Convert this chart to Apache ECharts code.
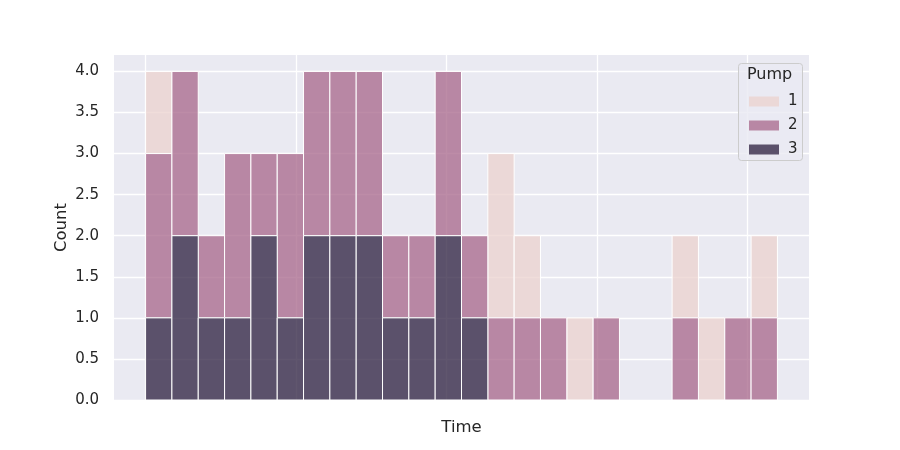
<!DOCTYPE html>
<html>
<head>
<meta charset="utf-8">
<script src="https://cdn.jsdelivr.net/npm/echarts@6/dist/echarts.min.js"></script>
<style>html,body{margin:0;padding:0;background:#fff}#c{width:900px;height:450px}</style>
</head>
<body>
<div id="c"></div>
<script>
// Bin edges along the Time axis (24 equal bins)
const binStarts = [0,7,14,21,28,35,42,49,56,63,70,77,84,91,98,105,112,119,126,133,140,147,154,161];
const binWidth = 7;
// Counts per bin for each pump (stacked: 3 bottom, 2 middle, 1 top)
const pump1 = [1,0,0,0,0,0,0,0,0,0,0,0,0,2,1,0,1,0,0,0,1,1,0,1];
const pump2 = [2,2,1,2,1,2,2,2,2,1,1,2,1,1,1,1,0,1,0,0,1,0,1,1];
const pump3 = [1,2,1,1,2,1,2,2,2,1,1,2,1,0,0,0,0,0,0,0,0,0,0,0];
const pumpNames = ['1','2','3'];
const xGridTicks = [0,40,80,120,160];
const yTicks = [0,0.5,1,1.5,2,2.5,3,3.5,4];

const colors = {
  '1': 'rgba(235,209,205,0.75)',
  '2': 'rgba(167,102,138,0.75)',
  '3': 'rgba(43,29,62,0.75)'
};

const counts = {'1': pump1, '2': pump2, '3': pump3};
const stackOrder = ['3','2','1'];
const base = binStarts.map(() => 0);
const seriesData = {};
stackOrder.forEach(name => {
  seriesData[name] = binStarts.map((s, i) => {
    const b = base[i];
    const t = b + counts[name][i];
    base[i] = t;
    return [s, s + binWidth, b, t];
  }).filter(d => d[3] > d[2]);
});

function renderItem(params, api) {
  const p0 = api.coord([api.value(0), api.value(2)]);
  const p1 = api.coord([api.value(1), api.value(3)]);
  return {
    type: 'rect',
    shape: { x: p0[0], y: p1[1], width: p1[0] - p0[0], height: p0[1] - p1[1] },
    style: { fill: api.visual('color'), stroke: '#ffffff', lineWidth: 1 }
  };
}

const chart = echarts.init(document.getElementById('c'), null, {renderer: 'canvas'});
const font = 'DejaVu Sans';
chart.setOption({
  animation: false,
  grid: { left: 114, right: 91, top: 55, bottom: 50, show: true, backgroundColor: '#eaeaf2', borderWidth: 0 },
  xAxis: {
    type: 'value', min: -8.4, max: 176.4,
    name: 'Time', nameLocation: 'middle', nameGap: 19,
    nameTextStyle: { fontFamily: font, fontSize: 16.5, color: '#262626' },
    axisLine: { show: false },
    axisTick: { show: false, customValues: xGridTicks },
    axisLabel: { show: false, customValues: xGridTicks },
    splitLine: { show: true, lineStyle: { color: '#ffffff', width: 1.3 } }
  },
  yAxis: {
    type: 'value', min: 0, max: 4.2,
    name: 'Count', nameLocation: 'middle', nameGap: 44, nameMoveOverlap: false,
    nameTextStyle: { fontFamily: font, fontSize: 16.5, color: '#262626' },
    axisLine: { show: false },
    axisTick: { show: false, customValues: yTicks },
    axisLabel: { customValues: yTicks, fontFamily: font, fontSize: 15, color: '#262626', margin: 15,
      formatter: v => v.toFixed(1) },
    splitLine: { show: true, lineStyle: { color: '#ffffff', width: 1.3 } }
  },
  legend: {
    orient: 'vertical', left: 744, top: 89, z: 10,
    data: pumpNames,
    itemWidth: 30, itemHeight: 10, itemGap: 9,
    icon: 'rect',
    textStyle: { fontFamily: font, fontSize: 15, color: '#262626', padding: [0,0,0,4] }
  },
  graphic: [
    { type: 'rect', left: 738, top: 63, z: 5,
      shape: { width: 64, height: 97, r: 3 },
      style: { fill: 'rgba(234,234,242,0.8)', stroke: '#cccccc', lineWidth: 1 } },
    { type: 'text', left: 747, top: 67, z: 6,
      style: { text: 'Pump', fontFamily: font, fontSize: 16, fill: '#262626' } }
  ],
  series: pumpNames.map(name => ({
    name: name,
    type: 'custom',
    renderItem: renderItem,
    itemStyle: { color: colors[name] },
    encode: { x: [0,1], y: [2,3] },
    data: seriesData[name],
    z: 2
  }))
});
</script>
</body>
</html>
